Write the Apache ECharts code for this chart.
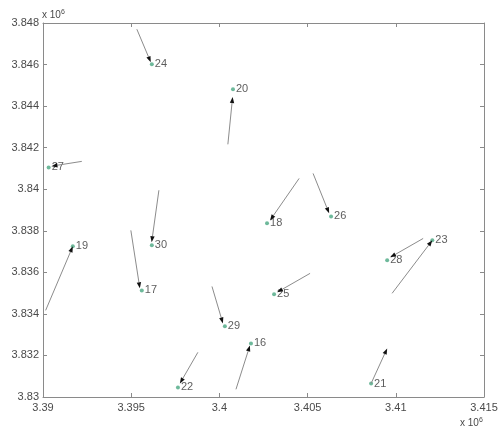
<!DOCTYPE html>
<html>
<head>
<meta charset="utf-8">
<script src="https://cdn.jsdelivr.net/npm/echarts@6/dist/echarts.min.js"></script>
<style>
  html, body { margin: 0; padding: 0; background: #fff; }
  #chart { width: 504px; height: 430px; }
</style>
</head>
<body>
<div id="chart"></div>
<script>
// station ids and positions (units of 10^6)
const stationIds = ["24", "20", "27", "30", "17", "19", "29", "16", "22", "18", "26", "25", "28", "23", "21"];
const stationX = [3.39617, 3.40077, 3.39032, 3.39617, 3.39560, 3.39169, 3.40031, 3.40179, 3.39765, 3.40270, 3.40633, 3.40310, 3.40951, 3.41207, 3.40860];
const stationY = [3.84601, 3.84481, 3.84105, 3.83730, 3.83513, 3.83725, 3.83340, 3.83258, 3.83046, 3.83836, 3.83869, 3.83494, 3.83658, 3.83754, 3.83065];

// displacement arrows: tail -> tip
const arrowFromX = [3.39532, 3.40048, 3.39220, 3.39657, 3.39498, 3.39015, 3.39958, 3.40094, 3.39878, 3.40452, 3.40531, 3.40514, 3.41155, 3.40979, 3.40860];
const arrowFromY = [3.84770, 3.84216, 3.84134, 3.83995, 3.83802, 3.83417, 3.83532, 3.83037, 3.83215, 3.84052, 3.84076, 3.83595, 3.83763, 3.83499, 3.83065];
const arrowToX = [3.39611, 3.40075, 3.39048, 3.39616, 3.39549, 3.39169, 3.40020, 3.40173, 3.39776, 3.40287, 3.40622, 3.40327, 3.40968, 3.41207, 3.40951];
const arrowToY = [3.84611, 3.84444, 3.84111, 3.83745, 3.83523, 3.83725, 3.83354, 3.83248, 3.83065, 3.83850, 3.83884, 3.83504, 3.83672, 3.83754, 3.83234];

const chart = echarts.init(document.getElementById("chart"));

const fmt = (v) => String(parseFloat(v.toFixed(4)));
const axisColor = "#8a8a8a";
const labelColor = "#4a4a4a";
const font = "Liberation Sans";

const stations = stationIds.map((id, i) => [stationX[i], stationY[i], id]);
const arrows = arrowFromX.map((x, i) => [x, arrowFromY[i], arrowToX[i], arrowToY[i]]);

function renderArrow(params, api) {
  const p0 = api.coord([api.value(0), api.value(1)]);
  const p1 = api.coord([api.value(2), api.value(3)]);
  const dx = p1[0] - p0[0], dy = p1[1] - p0[1];
  const len = Math.sqrt(dx * dx + dy * dy) || 1;
  const ux = dx / len, uy = dy / len;
  const hl = 6, hw = 2.2;
  const bx = p1[0] - ux * hl, by = p1[1] - uy * hl;
  return {
    type: "group",
    children: [
      {
        type: "line",
        shape: { x1: p0[0], y1: p0[1], x2: bx, y2: by },
        style: { stroke: "#8c8c8c", lineWidth: 1 }
      },
      {
        type: "polygon",
        shape: { points: [[p1[0], p1[1]], [bx - uy * hw, by + ux * hw], [bx + uy * hw, by - ux * hw]] },
        style: { fill: "#111" }
      }
    ]
  };
}

chart.setOption({
  backgroundColor: "#fff",
  animation: false,
  grid: { left: 43, right: 20, top: 23, bottom: 33 },
  xAxis: [
    {
      type: "value", min: 3.39, max: 3.415, interval: 0.005,
      axisLine: { show: true, lineStyle: { color: axisColor } },
      axisTick: { show: true, inside: true, length: 4, lineStyle: { color: axisColor } },
      axisLabel: { color: labelColor, fontFamily: font, fontSize: 11, margin: 5, formatter: fmt },
      splitLine: { show: false }
    },
    {
      type: "value", position: "top", min: 3.39, max: 3.415, interval: 0.005,
      axisLine: { show: true, lineStyle: { color: axisColor } },
      axisTick: { show: true, inside: true, length: 4, lineStyle: { color: axisColor } },
      axisLabel: { show: false },
      splitLine: { show: false }
    }
  ],
  yAxis: [
    {
      type: "value", min: 3.83, max: 3.848, interval: 0.002,
      axisLine: { show: true, lineStyle: { color: axisColor } },
      axisTick: { show: true, inside: true, length: 4, lineStyle: { color: axisColor } },
      axisLabel: { color: labelColor, fontFamily: font, fontSize: 11, margin: 4, formatter: fmt },
      splitLine: { show: false }
    },
    {
      type: "value", position: "right", min: 3.83, max: 3.848, interval: 0.002,
      axisLine: { show: true, lineStyle: { color: axisColor } },
      axisTick: { show: true, inside: true, length: 4, lineStyle: { color: axisColor } },
      axisLabel: { show: false },
      splitLine: { show: false }
    }
  ],
  graphic: [
    {
      type: "text", left: 42, top: 9,
      style: {
        text: "x 10{sup|6}", fill: labelColor, font: "10px Liberation Sans",
        rich: { sup: { fontSize: 7, fill: labelColor, verticalAlign: "top", padding: [0, 0, 6, 0] } }
      }
    },
    {
      type: "text", left: 460, top: 417,
      style: {
        text: "x 10{sup|6}", fill: labelColor, font: "10px Liberation Sans",
        rich: { sup: { fontSize: 7, fill: labelColor, verticalAlign: "top", padding: [0, 0, 6, 0] } }
      }
    }
  ],
  series: [
    {
      type: "scatter",
      data: stations,
      symbolSize: 4,
      itemStyle: { color: "#4aa882" },
      label: {
        show: true, position: "right", distance: 1,
        formatter: (p) => p.data[2],
        color: "#333", fontFamily: font, fontSize: 11
      },
      z: 2
    },
    {
      type: "custom",
      data: arrows,
      renderItem: renderArrow,
      encode: { x: [0, 2], y: [1, 3] },
      z: 3
    }
  ]
});
</script>
</body>
</html>
